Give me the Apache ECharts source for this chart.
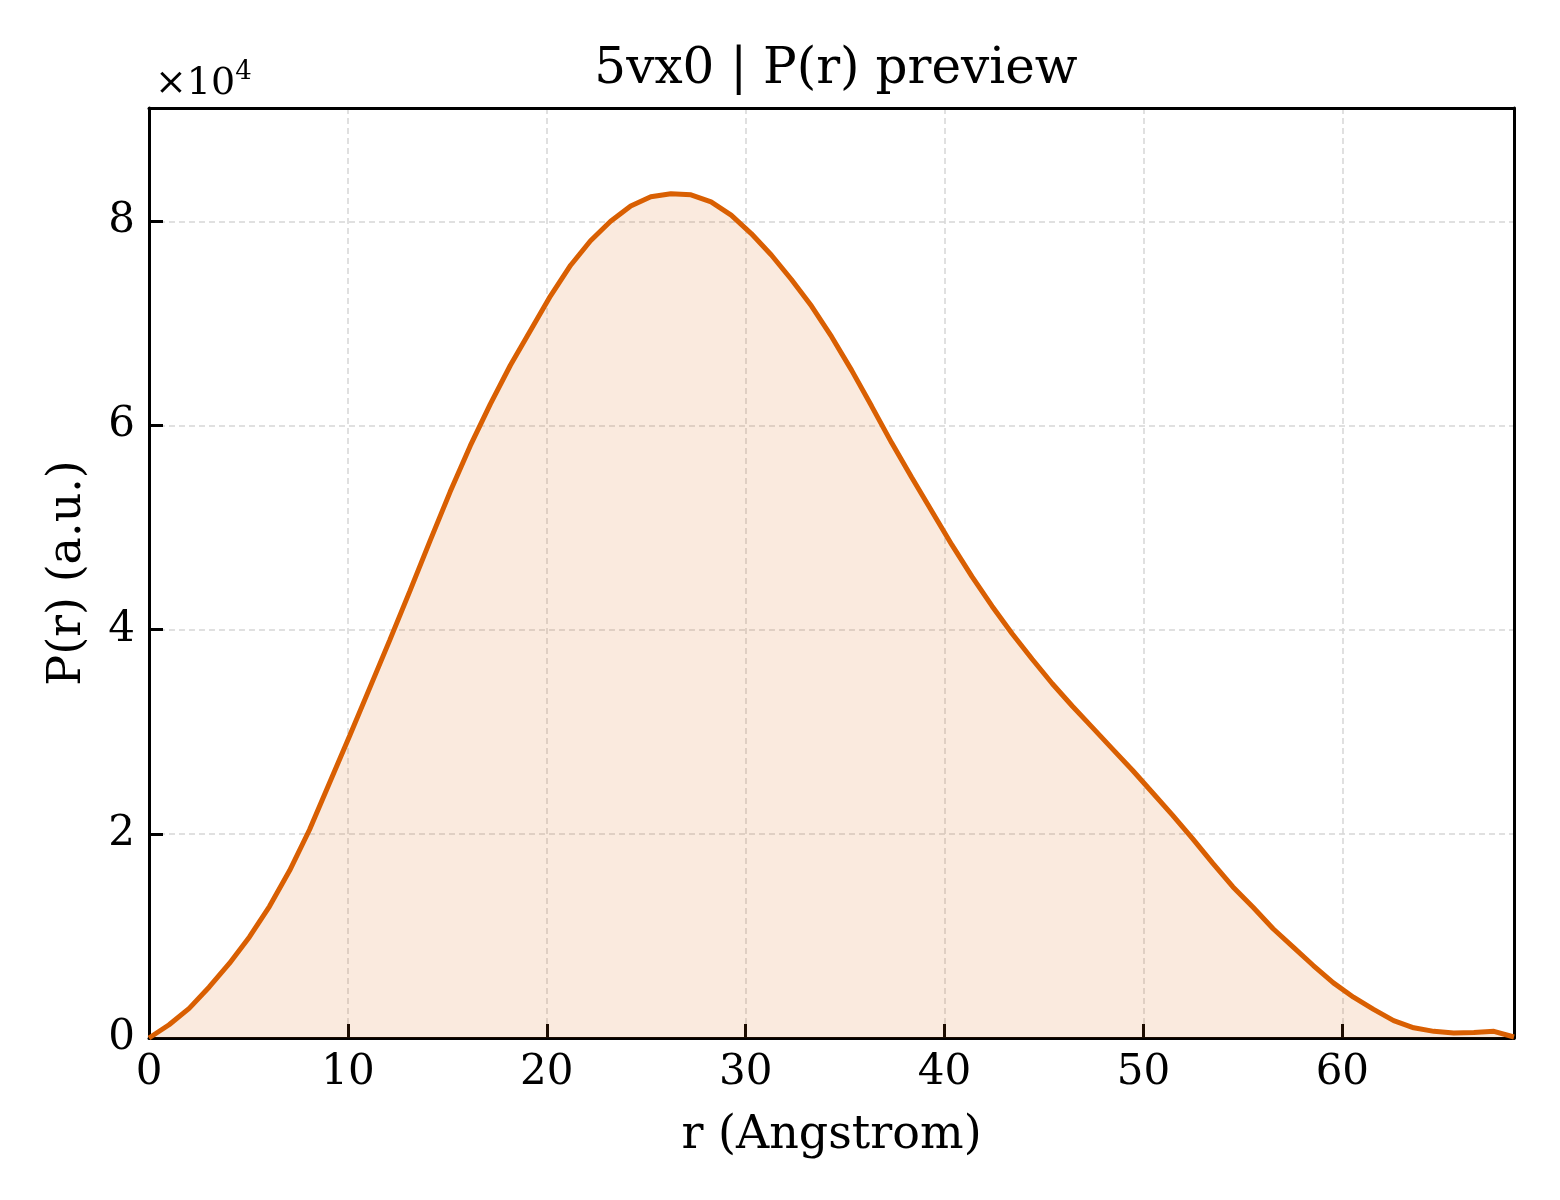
<!DOCTYPE html>
<html>
<head>
    <meta charset="utf-8">
    <title>5vx0 | P(r) preview</title>
    <script src="https://cdn.jsdelivr.net/npm/echarts@6/dist/echarts.min.js"></script>
    <style>
        html, body { margin: 0; padding: 0; background: #fff; }
        #chart { width: 1560px; height: 1200px; }
    </style>
</head>
<body>
<div id="chart"></div>
<script type="text/javascript">
    // r (Angstrom) grid of the P(r) curve
    var rValues = [0, 1.01, 2.02, 3.03, 4.04, 5.05, 6.06, 7.07, 8.07, 9.08,
        10.09, 11.10, 12.11, 13.12, 14.13, 15.14, 16.15, 17.16, 18.17, 19.18,
        20.19, 21.20, 22.20, 23.21, 24.22, 25.23, 26.24, 27.25, 28.26, 29.27,
        30.28, 31.29, 32.30, 33.31, 34.32, 35.33, 36.33, 37.34, 38.35, 39.36,
        40.37, 41.38, 42.39, 43.40, 44.41, 45.42, 46.43, 47.44, 48.45, 49.46,
        50.47, 51.47, 52.48, 53.49, 54.50, 55.51, 56.52, 57.53, 58.54, 59.55,
        60.56, 61.57, 62.58, 63.59, 64.60, 65.60, 66.61, 67.62, 68.63];
    // P(r) in arbitrary units
    var prValues = [0, 1300, 2900, 5000, 7300, 9900, 12900, 16400, 20400, 25000,
        29600, 34300, 39000, 43800, 48700, 53500, 58000, 62100, 65900, 69300,
        72700, 75700, 78100, 80000, 81500, 82400, 82700, 82600, 81900, 80600,
        78800, 76700, 74300, 71700, 68700, 65400, 61900, 58300, 54900, 51600,
        48300, 45200, 42300, 39600, 37100, 34700, 32500, 30400, 28300, 26200,
        24000, 21800, 19500, 17100, 14800, 12800, 10700, 8900, 7100, 5400,
        4000, 2800, 1700, 1000, 650, 500, 550, 650, 100];
    var xTicks = [0, 10, 20, 30, 40, 50, 60];
    var yTicks = [0, 20000, 40000, 60000, 80000];
    var xMax = 68.63;
    var yMax = 91100;

    var FONT = 'DejaVu Serif';
    var LINE = '#d95f02';

    var points = rValues.map(function (r, i) { return [r, prValues[i]]; });

    var myChart = echarts.init(document.getElementById('chart'));

    myChart.setOption({
        backgroundColor: '#fff',
        animation: false,
        title: [
            {
                text: '5vx0 | P(r) preview',
                left: 831, top: 40, textAlign: 'center',
                textStyle: { fontFamily: FONT, fontSize: 50, fontWeight: 'normal', color: '#000' }
            },
            {
                // matplotlib-style offset text
                text: '{a|×10}{b|4}',
                left: 150, top: 54,
                textStyle: {
                    fontWeight: 'normal',
                    rich: {
                        a: { fontFamily: FONT, fontSize: 38, fontWeight: 'normal', color: '#000', verticalAlign: 'bottom' },
                        b: { fontFamily: FONT, fontSize: 26, fontWeight: 'normal', color: '#000', verticalAlign: 'bottom', padding: [0, 0, 18, 0] }
                    }
                }
            }
        ],
        grid: { left: 149, right: 46, top: 108, bottom: 162 },
        xAxis: [
            {
                type: 'value', min: 0, max: xMax, interval: 10,
                name: 'r (Angstrom)', nameLocation: 'middle', nameGap: 75,
                nameTextStyle: { fontFamily: FONT, fontSize: 46, color: '#000' },
                axisLine: { show: true, onZero: false, lineStyle: { color: '#000', width: 3 } },
                axisTick: { show: true, inside: true, length: 14, customValues: xTicks, lineStyle: { color: '#000', width: 3 } },
                axisLabel: { customValues: xTicks, margin: 14, fontFamily: FONT, fontSize: 42, color: '#000' },
                splitLine: { show: true, lineStyle: { color: '#d6d6d6', width: 1.5, type: [6, 4] } }
            },
            {
                type: 'value', min: 0, max: xMax, position: 'top',
                axisLine: { show: true, onZero: false, lineStyle: { color: '#000', width: 3 } },
                axisTick: { show: false }, axisLabel: { show: false }, splitLine: { show: false }
            }
        ],
        yAxis: [
            {
                type: 'value', min: 0, max: yMax, interval: 20000,
                name: 'P(r) (a.u.)', nameLocation: 'middle', nameGap: 58, nameRotate: 90,
                nameTextStyle: { fontFamily: FONT, fontSize: 46, color: '#000' },
                axisLine: { show: true, onZero: false, lineStyle: { color: '#000', width: 3 } },
                axisTick: { show: true, inside: true, length: 14, customValues: yTicks, lineStyle: { color: '#000', width: 3 } },
                axisLabel: {
                    customValues: yTicks, margin: 14, fontFamily: FONT, fontSize: 42, color: '#000',
                    formatter: function (v) { return String(Math.round(v / 10000)); }
                },
                splitLine: { show: true, lineStyle: { color: '#d6d6d6', width: 1.5, type: [6, 4] } }
            },
            {
                type: 'value', min: 0, max: yMax, position: 'right',
                axisLine: { show: true, onZero: false, lineStyle: { color: '#000', width: 3 } },
                axisTick: { show: false }, axisLabel: { show: false }, splitLine: { show: false }
            }
        ],
        series: [
            {
                type: 'line',
                data: points,
                showSymbol: false,
                clip: true,
                lineStyle: { color: LINE, width: 5 },
                areaStyle: { color: LINE, opacity: 0.13 }
            }
        ]
    });
</script>
</body>
</html>
